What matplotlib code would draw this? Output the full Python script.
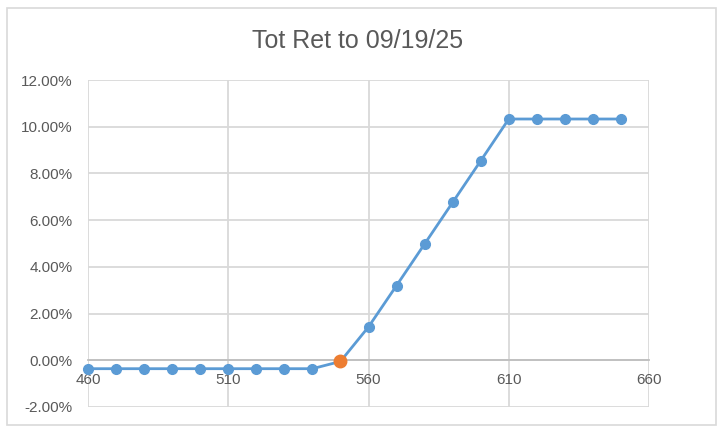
import matplotlib
matplotlib.use("Agg")
import matplotlib.pyplot as plt
from matplotlib.patches import Rectangle
from matplotlib.ticker import FuncFormatter

# price levels and total return (%)
strikes = [460, 470, 480, 490, 500, 510, 520, 530, 540, 550,
           560, 570, 580, 590, 600, 610, 620, 630, 640, 650]
tot_ret = [-0.36, -0.36, -0.36, -0.36, -0.36, -0.36, -0.36, -0.36, -0.36, -0.05,
           1.43, 3.20, 4.98, 6.76, 8.54, 10.33, 10.33, 10.33, 10.33, 10.33]
current_x = 550
current_y = -0.05

plt.rcParams['font.family'] = ['Liberation Sans', 'DejaVu Sans']
text_col = '#595959'
grid_col = '#d9d9d9'

fig = plt.figure(figsize=(7.24, 4.33), dpi=100)
fig.patches.append(Rectangle((7 / 724, 1 - 425 / 433), 709 / 724, 417 / 433,
                             transform=fig.transFigure, fill=False,
                             edgecolor='#d9d9d9', linewidth=1.2))

ax = fig.add_axes([88 / 724, 1 - 407 / 433, 561 / 724, 327 / 433])
ax.plot(strikes, tot_ret, color='#5b9bd5', linewidth=2.0, marker='o',
        markersize=7, zorder=3, clip_on=False)
ax.plot([current_x], [current_y], 'o', color='#ed7d31', markersize=9,
        zorder=4, clip_on=False)

ax.set_xlim(460, 660)
ax.set_ylim(-2, 12)
ax.set_xticks([460, 510, 560, 610, 660])
ax.set_yticks(range(-2, 13, 2))
ax.yaxis.set_major_formatter(FuncFormatter(lambda v, p: f'{v:.2f}%'))
ax.grid(True, color=grid_col, linewidth=1.3)
ax.set_axisbelow(True)

for side in ['top', 'right', 'left']:
    ax.spines[side].set_visible(False)
ax.spines['bottom'].set_position(('data', 0))
ax.spines['bottom'].set_color('#bfbfbf')
ax.spines['bottom'].set_linewidth(1.3)
ax.tick_params(length=0, labelsize=11, labelcolor=text_col)
ax.tick_params(axis='y', pad=11)
ax.tick_params(axis='x', pad=9)

fig.text(0.494, 1 - 41 / 433, 'Tot Ret to 09/19/25', ha='center', va='center',
         fontsize=18, color=text_col)

fig.savefig('out.png', dpi=100)
